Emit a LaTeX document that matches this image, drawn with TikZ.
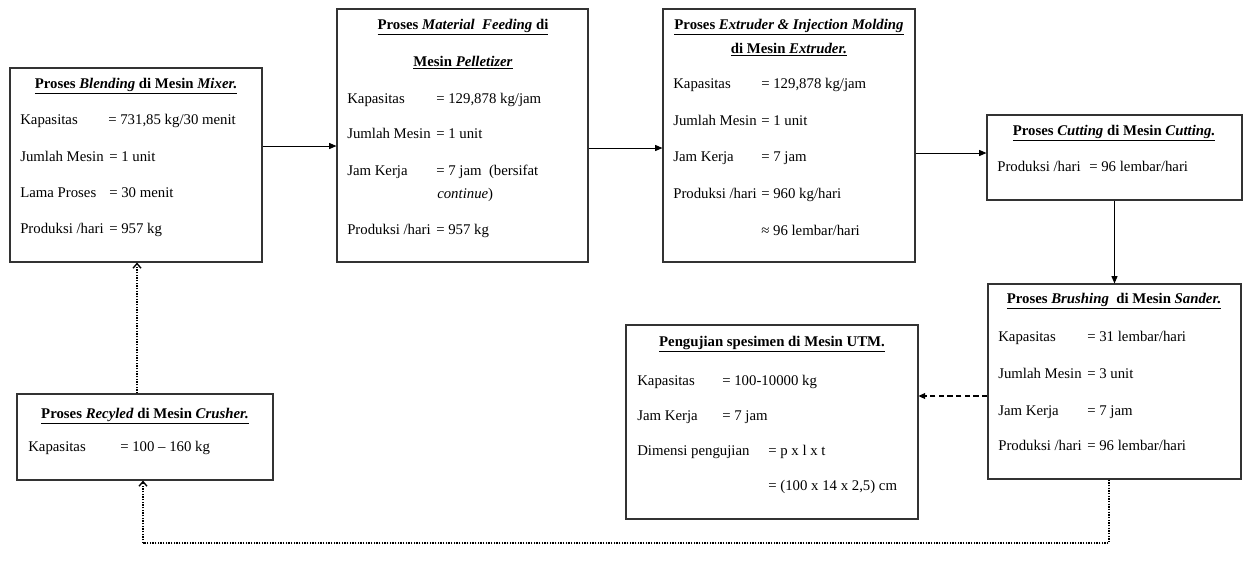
\documentclass[tikz,border=0pt]{standalone}
\usepackage{fontspec}
\setmainfont{Liberation Serif}
\usetikzlibrary{arrows.meta}
\tikzset{
  x=0.75pt, y=-0.75pt,
  pbox/.style={draw=black!80, line width=0.8pt, inner sep=0pt, fill=white},
  lbl/.style={anchor=mid west, inner sep=0pt, font=\fontsize{11.1}{13}\selectfont},
  ttl/.style={anchor=mid, inner sep=0pt, font=\fontsize{11.1}{13}\selectfont\bfseries},
  flow/.style={line width=0.7pt, -{Triangle[length=5.5pt,width=4.5pt]}},
  dashflow/.style={line width=0.8pt, dash pattern=on 4pt off 2.5pt, -{Triangle[length=5pt,width=4.5pt]}},
  dotflow/.style={line width=1.2pt, dash pattern=on 1pt off 1pt, -{Straight Barb[length=3.5pt,width=6pt,line width=1pt]}},
  dotline/.style={line width=1.2pt, dash pattern=on 1pt off 1pt}
}
\newcommand\procbox[5]{\node[pbox, minimum width={(#4-#2)*0.75pt}, minimum height={(#5-#3)*0.75pt}] (#1) at ({(#2+#4)/2},{(#3+#5)/2}) {};}
\begin{document}
\begin{tikzpicture}
\useasboundingbox[fill=white] (0,0) rectangle (1246,562);
% boxes
\procbox{b1}{10}{68}{262}{262}
\procbox{b2}{337}{9}{588}{262}
\procbox{b3}{663}{9}{915}{262}
\procbox{b4}{987}{115}{1242}{200}
\procbox{b5}{988}{284}{1241}{479}
\procbox{b6}{626}{325}{918}{519}
\procbox{b7}{17}{394}{273}{480}

% box 1
\node[ttl] (t1) at (136,85) {\underline{Proses \textit{Blending} di Mesin \textit{Mixer.}}};
\node[lbl] (l11) at (20,121) {Kapasitas};
\node[lbl] (v11) at (108,121) {= 731,85 kg/30 menit};
\node[lbl] (l12) at (20,158) {Jumlah Mesin};
\node[lbl] (v12) at (109,158) {= 1 unit};
\node[lbl] (l13) at (20,194) {Lama Proses};
\node[lbl] (v13) at (109,194) {= 30 menit};
\node[lbl] (l14) at (20,230) {Produksi /hari};
\node[lbl] (v14) at (109,230) {= 957 kg};

% box 2
\node[ttl] (t21) at (463,26) {\underline{Proses \textit{Material\ \ Feeding} di}};
\node[ttl] (t22) at (463,63) {\underline{Mesin \textit{Pelletizer}}};
\node[lbl] (l21) at (347,100) {Kapasitas};
\node[lbl] (v21) at (436,100) {= 129,878 kg/jam};
\node[lbl] (l22) at (347,135) {Jumlah Mesin};
\node[lbl] (v22) at (436,135) {= 1 unit};
\node[lbl] (l23) at (347,172) {Jam Kerja};
\node[lbl] (v23) at (436,172) {= 7 jam\ \ (bersifat};
\node[lbl] (v23b) at (437,195) {\textit{continue})};
\node[lbl] (l24) at (347,231) {Produksi /hari};
\node[lbl] (v24) at (436,231) {= 957 kg};

% box 3
\node[ttl] (t31) at (789,26) {\underline{Proses \textit{Extruder \& Injection Molding}}};
\node[ttl] (t32) at (789,50) {\underline{di Mesin \textit{Extruder.}}};
\node[lbl] (l31) at (673,85) {Kapasitas};
\node[lbl] (v31) at (761,85) {= 129,878 kg/jam};
\node[lbl] (l32) at (673,122) {Jumlah Mesin};
\node[lbl] (v32) at (761,122) {= 1 unit};
\node[lbl] (l33) at (673,158) {Jam Kerja};
\node[lbl] (v33) at (761,158) {= 7 jam};
\node[lbl] (l34) at (673,195) {Produksi /hari};
\node[lbl] (v34) at (761,195) {= 960 kg/hari};
\node[lbl] (v35) at (761,232) {≈ 96 lembar/hari};

% box 4
\node[ttl] (t4) at (1114,132) {\underline{Proses \textit{Cutting} di Mesin \textit{Cutting.}}};
\node[lbl] (l41) at (997,168) {Produksi /hari};
\node[lbl] (v41) at (1089,168) {= 96 lembar/hari};

% box 5
\node[ttl] (t5) at (1114,300) {\underline{Proses \textit{Brushing}\ \ di Mesin \textit{Sander.}}};
\node[lbl] (l51) at (998,338) {Kapasitas};
\node[lbl] (v51) at (1087,338) {= 31 lembar/hari};
\node[lbl] (l52) at (998,375) {Jumlah Mesin};
\node[lbl] (v52) at (1087,375) {= 3 unit};
\node[lbl] (l53) at (998,412) {Jam Kerja};
\node[lbl] (v53) at (1087,412) {= 7 jam};
\node[lbl] (l54) at (998,447) {Produksi /hari};
\node[lbl] (v54) at (1087,447) {= 96 lembar/hari};

% box 6
\node[ttl] (t6) at (772,343) {\underline{Pengujian spesimen di Mesin UTM.}};
\node[lbl] (l61) at (637,382) {Kapasitas};
\node[lbl] (v61) at (722,382) {= 100-10000 kg};
\node[lbl] (l62) at (637,417) {Jam Kerja};
\node[lbl] (v62) at (722,417) {= 7 jam};
\node[lbl] (l63) at (637,452) {Dimensi pengujian};
\node[lbl] (v63) at (768,452) {= p x l x t};
\node[lbl] (v64) at (768,487) {= (100 x 14 x 2,5) cm};

% box 7
\node[ttl] (t7) at (145,415) {\underline{Proses \textit{Recyled}\ di Mesin \textit{Crusher.}}};
\node[lbl] (l71) at (28,448) {Kapasitas};
\node[lbl] (v71) at (120,448) {= 100 – 160 kg};

% connectors
\draw[flow] (b1.east |- 0,146) -- (b2.west |- 0,146);
\draw[flow] (b2.east |- 0,148) -- (b3.west |- 0,148);
\draw[flow] (b3.east |- 0,153) -- (b4.west |- 0,153);
\draw[flow] (b4.south) -- (b5.north);
\draw[dashflow] (b5.west |- 0,396) -- (b6.east |- 0,396);
\coordinate (c1) at (1109,543);
\coordinate (c2) at (143,543);
\draw[dotline] (b5.south -| c1) -- (c1) -- (c2);
\draw[dotflow] (c2) -- (b7.south -| c2);
\draw[dotflow] (b7.north -| 137,0) -- (b1.south -| 137,0);
\end{tikzpicture}
\end{document}
